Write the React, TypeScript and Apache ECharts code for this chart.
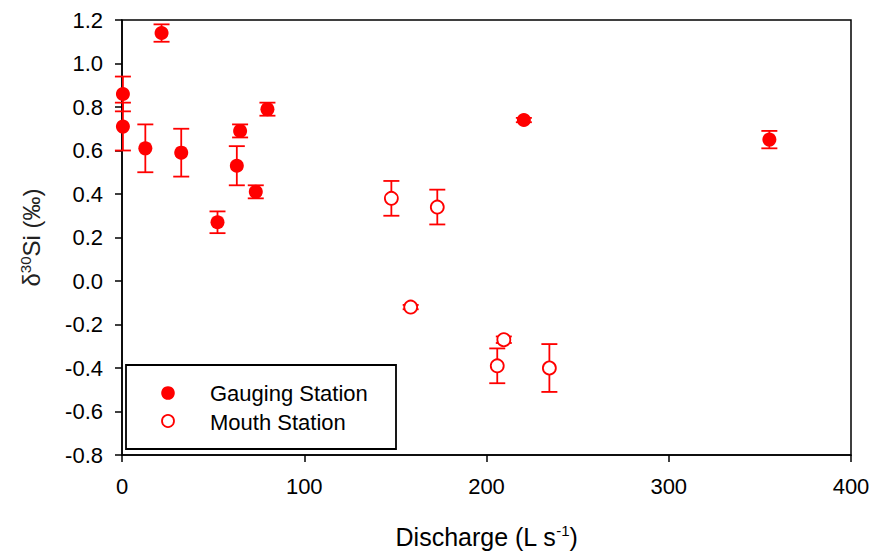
import React, { useEffect, useRef } from "react";
import * as echarts from "echarts";

const gaugingX = [0.5, 0.5, 12.8, 21.7, 32.5, 52.4, 63, 64.8, 73.4, 79.8, 220.5, 355.2];
const gaugingY = [0.86, 0.71, 0.61, 1.14, 0.59, 0.27, 0.53, 0.69, 0.41, 0.79, 0.74, 0.65];
const gaugingErr = [0.08, 0.11, 0.11, 0.04, 0.11, 0.05, 0.09, 0.03, 0.03, 0.03, 0.01, 0.04];

const mouthX = [147.8, 173, 158.4, 209.5, 205.9, 234.5];
const mouthY = [0.38, 0.34, -0.12, -0.27, -0.39, -0.4];
const mouthErr = [0.08, 0.08, 0.01, 0.015, 0.08, 0.11];

const seriesNames = ["Gauging Station", "Mouth Station"];

const xTicks = { min: 0, max: 400, interval: 100 };
const yTicks = { min: -0.8, max: 1.2, interval: 0.2 };

const RED = "#ff0000";
const FONT = "'Liberation Sans', Arial, sans-serif";

function errData(xs: number[], ys: number[], es: number[]) {
  return xs.map((x, i) => [x, ys[i], ys[i] - es[i], ys[i] + es[i]]);
}

function renderErr(params: any, api: any) {
  const x = api.value(0);
  const lo = api.coord([x, api.value(2)]);
  const hi = api.coord([x, api.value(3)]);
  const hw = 8;
  const style = { stroke: RED, lineWidth: 1.8, fill: "none" };
  return {
    type: "group",
    children: [
      { type: "line", shape: { x1: lo[0], y1: lo[1], x2: hi[0], y2: hi[1] }, style },
      { type: "line", shape: { x1: lo[0] - hw, y1: lo[1], x2: lo[0] + hw, y2: lo[1] }, style },
      { type: "line", shape: { x1: hi[0] - hw, y1: hi[1], x2: hi[0] + hw, y2: hi[1] }, style },
    ],
  };
}

export default function App() {
  const ref = useRef<HTMLDivElement>(null);
  useEffect(() => {
    if (!ref.current) return;
    const chart = echarts.init(ref.current, null, { renderer: "svg" });
    chart.setOption({
      animation: false,
      backgroundColor: "#fff",
      textStyle: { fontFamily: FONT },
      grid: {
        left: 122,
        right: 23,
        top: 20,
        bottom: 96,
        show: true,
        borderColor: "#000",
        borderWidth: 1.5,
        backgroundColor: "transparent",
      },
      graphic: [
        {
          type: "group",
          z: 100,
          children: [
            {
              type: "rect",
              shape: { x: 126, y: 365, width: 270, height: 84 },
              style: { fill: "#fff", stroke: "#000", lineWidth: 1.8 },
            },
            {
              type: "circle",
              shape: { cx: 168, cy: 393, r: 6.8 },
              style: { fill: RED, stroke: RED, lineWidth: 0 },
            },
            {
              type: "circle",
              shape: { cx: 168, cy: 421, r: 6 },
              style: { fill: "#fff", stroke: RED, lineWidth: 1.8 },
            },
            {
              type: "text",
              x: 210,
              y: 393,
              style: {
                text: seriesNames[0],
                fontSize: 22,
                fontFamily: FONT,
                fill: "#000",
                verticalAlign: "middle",
              },
            },
            {
              type: "text",
              x: 210,
              y: 422,
              style: {
                text: seriesNames[1],
                fontSize: 22,
                fontFamily: FONT,
                fill: "#000",
                verticalAlign: "middle",
              },
            },
          ],
        },
      ],
      xAxis: {
        type: "value",
        min: xTicks.min,
        max: xTicks.max,
        interval: xTicks.interval,
        name: "Discharge (L s{s|-1})",
        nameLocation: "middle",
        nameGap: 68,
        nameTextStyle: {
          fontSize: 25,
          color: "#000",
          fontFamily: FONT,
          rich: { s: { fontSize: 15, verticalAlign: "top", padding: [0, 0, 12, 0], color: "#000", fontFamily: FONT } },
        },
        splitLine: { show: false },
        axisLine: { show: true, onZero: false, lineStyle: { color: "#000", width: 1.5 } },
        axisTick: { show: true, inside: false, length: 7, lineStyle: { color: "#000", width: 1.5 } },
        axisLabel: { fontSize: 22, color: "#000", margin: 20, fontFamily: FONT },
      },
      yAxis: {
        type: "value",
        min: yTicks.min,
        max: yTicks.max,
        interval: yTicks.interval,
        name: "δ{s|30}Si (‰)",
        nameLocation: "middle",
        nameGap: 77,
        nameTextStyle: {
          fontSize: 24,
          color: "#222",
          fontFamily: FONT,
          rich: { s: { fontSize: 15, verticalAlign: "top", padding: [0, 0, 12, 0], color: "#222", fontFamily: FONT } },
        },
        splitLine: { show: false },
        axisLine: { show: true, onZero: false, lineStyle: { color: "#000", width: 1.5 } },
        axisTick: { show: true, inside: false, length: 7, lineStyle: { color: "#000", width: 1.5 } },
        axisLabel: {
          fontSize: 22,
          color: "#000",
          margin: 19,
          fontFamily: FONT,
          formatter: (v: number) => (Math.abs(v) < 1e-9 ? "0.0" : v.toFixed(1)),
        },
      },
      series: [
        {
          type: "custom",
          name: "gErr",
          renderItem: renderErr,
          data: errData(gaugingX, gaugingY, gaugingErr),
          encode: { x: 0, y: [1, 2, 3] },
          z: 1,
          silent: true,
        },
        {
          type: "custom",
          name: "mErr",
          renderItem: renderErr,
          data: errData(mouthX, mouthY, mouthErr),
          encode: { x: 0, y: [1, 2, 3] },
          z: 1,
          silent: true,
        },
        {
          type: "scatter",
          name: seriesNames[0],
          data: gaugingX.map((x, i) => [x, gaugingY[i]]),
          symbol: "circle",
          symbolSize: 14,
          itemStyle: { color: RED, opacity: 1 },
          z: 3,
        },
        {
          type: "scatter",
          name: seriesNames[1],
          data: mouthX.map((x, i) => [x, mouthY[i]]),
          symbol: "circle",
          symbolSize: 13,
          itemStyle: { color: "#fff", borderColor: RED, borderWidth: 1.8, opacity: 1 },
          z: 3,
        },
      ],
    });
    return () => chart.dispose();
  }, []);
  return (
    <div
      ref={ref}
      style={{ position: "fixed", left: 0, top: 0, width: 874, height: 554, overflow: "hidden" }}
    />
  );
}
